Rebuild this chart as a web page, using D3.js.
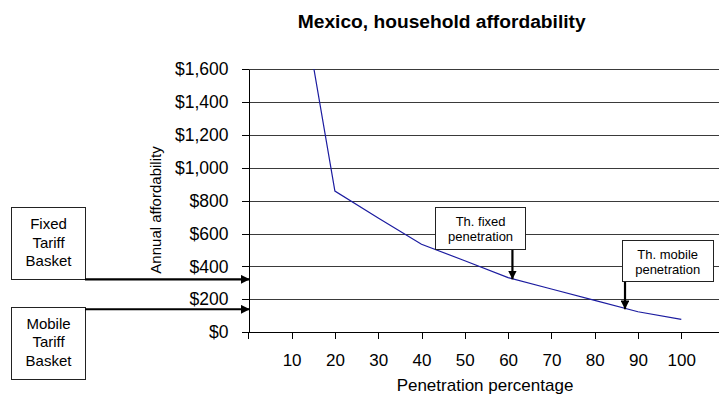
<!DOCTYPE html>
<html>
<head>
<meta charset="utf-8">
<script src="https://cdn.jsdelivr.net/npm/d3@7"></script>
<style>
  body { margin: 0; background: #fff; }
  svg { display: block; font-family: "Liberation Sans", Arial, sans-serif; }
  .grid line { stroke: #3a3a3a; stroke-width: 1; shape-rendering: crispEdges; }
  .axis path, .axis line { stroke: #000; shape-rendering: crispEdges; }
  .axis text { fill: #000; }
  .curve { fill: none; stroke: #1c1ca0; stroke-width: 1.2; }
  .box { fill: #fff; stroke: #222; stroke-width: 1; shape-rendering: crispEdges; }
  .pointer { stroke: #000; stroke-width: 2.2; }
</style>
</head>
<body>
<div id="chart"></div>
<script>
// values
const penetration = [10, 20, 30, 40, 50, 60, 70, 80, 90, 100];
const affordability = [2390, 858, 695, 535, 435, 332, 263, 194, 125, 79];
const xTicks = [10, 20, 30, 40, 50, 60, 70, 80, 90, 100];
const yTicks = [0, 200, 400, 600, 800, 1000, 1200, 1400, 1600];
const basketNames = [["Fixed", "Tariff", "Basket"], ["Mobile", "Tariff", "Basket"]];
const basketValues = [322, 140];
const thresholdNames = [["Th. fixed", "penetration"], ["Th. mobile", "penetration"]];
const thresholdPen = [61, 87];

const W = 719, H = 399;
const plotLeft = 248.3, plotRight = 719, plotTop = 69, plotBottom = 332.3;

const svg = d3.select("#chart").append("svg")
  .attr("width", W).attr("height", H);

const x = d3.scaleLinear().domain([0, 100]).range([plotLeft, 681.3]);
const y = d3.scaleLinear().domain([0, 1600]).range([plotBottom, plotTop]);

const defs = svg.append("defs");
defs.append("clipPath").attr("id", "plot-clip")
  .append("rect").attr("x", plotLeft).attr("y", plotTop)
  .attr("width", plotRight - plotLeft).attr("height", plotBottom - plotTop);
defs.append("marker")
  .attr("id", "head")
  .attr("viewBox", "0 -5 10 10")
  .attr("refX", 10).attr("refY", 0)
  .attr("markerWidth", 4).attr("markerHeight", 4)
  .attr("markerUnits", "strokeWidth")
  .attr("orient", "auto")
  .append("path").attr("d", "M0,-5L10,0L0,5Z").attr("fill", "#000");

// title
svg.append("text")
  .attr("x", 441.7).attr("y", 28)
  .attr("text-anchor", "middle")
  .style("font-size", "19.2px").style("font-weight", "bold")
  .text("Mexico, household affordability");

// gridlines
svg.append("g").attr("class", "grid")
  .selectAll("line").data(yTicks.filter(d => d > 0)).enter().append("line")
  .attr("x1", plotLeft).attr("x2", plotRight)
  .attr("y1", d => Math.round(y(d)) + 0.5).attr("y2", d => Math.round(y(d)) + 0.5);

// axes
svg.append("g").attr("class", "axis x-axis")
  .attr("transform", `translate(0,${Math.round(plotBottom) + 0.5})`)
  .call(d3.axisBottom(x).tickValues([0, ...xTicks]).tickSize(6).tickSizeOuter(0)
    .tickFormat(d => d === 0 ? "" : d))
  .call(g => g.select(".domain").attr("d", `M${plotLeft},0H${plotRight}`))
  .call(g => g.selectAll("text").attr("y", 21).style("font-size", "17px"));

svg.append("g").attr("class", "axis y-axis")
  .attr("transform", `translate(${Math.round(plotLeft) + 0.5},0)`)
  .call(d3.axisLeft(y).tickValues(yTicks).tickSize(7).tickSizeOuter(0)
    .tickFormat(d => "$" + d3.format(",")(d)))
  .call(g => g.selectAll("text").attr("x", -20).style("font-size", "17.5px"));

// axis titles
svg.append("text")
  .attr("x", 485).attr("y", 391)
  .attr("text-anchor", "middle")
  .style("font-size", "17px")
  .text("Penetration percentage");

svg.append("text")
  .attr("transform", "translate(161,210) rotate(-90)")
  .attr("text-anchor", "middle")
  .style("font-size", "15px")
  .text("Annual affordability");

// curve
const line = d3.line().x((d, i) => x(penetration[i])).y(d => y(d));
svg.append("path")
  .attr("class", "curve")
  .attr("clip-path", "url(#plot-clip)")
  .attr("d", line(affordability));

// tariff baskets on the left, arrows into the y axis
const basketBoxes = [{x0: 11, y0: 207.3, y1: 279.3}, {x0: 11, y0: 306.7, y1: 379}];
basketValues.forEach((v, i) => {
  const b = basketBoxes[i];
  const g = svg.append("g");
  g.append("rect").attr("class", "box")
    .attr("x", b.x0 + 0.5).attr("y", Math.round(b.y0) + 0.5)
    .attr("width", 74).attr("height", Math.round(b.y1 - b.y0));
  g.append("line").attr("class", "pointer")
    .attr("x1", 85).attr("x2", plotLeft + 1.5)
    .attr("y1", y(v)).attr("y2", y(v))
    .attr("marker-end", "url(#head)");
  g.selectAll("text").data(basketNames[i]).enter().append("text")
    .attr("x", 48.5)
    .attr("y", (d, j) => b.y0 + 22 + j * 18.4)
    .attr("text-anchor", "middle")
    .style("font-size", "15px")
    .text(d => d);
});

// threshold call-outs pointing down at the curve
const calloutBoxes = [{dx0: -77, dx1: 13.3, y0: 207.3, y1: 249.3}, {dx0: -2.6, dx1: 88, y0: 240, y1: 281}];
thresholdPen.forEach((p, i) => {
  const c = calloutBoxes[i];
  const ax = x(p);
  const g = svg.append("g");
  g.append("line").attr("class", "pointer")
    .attr("x1", ax).attr("x2", ax)
    .attr("y1", c.y1).attr("y2", y(basketValues[i]))
    .attr("marker-end", "url(#head)");
  g.append("rect").attr("class", "box")
    .attr("x", Math.round(ax + c.dx0) + 0.5).attr("y", Math.round(c.y0) + 0.5)
    .attr("width", Math.round(c.dx1 - c.dx0)).attr("height", Math.round(c.y1 - c.y0));
  g.selectAll("text").data(thresholdNames[i]).enter().append("text")
    .attr("x", ax + (c.dx0 + c.dx1) / 2)
    .attr("y", (d, j) => c.y0 + 19 + j * 14.5)
    .attr("text-anchor", "middle")
    .style("font-size", "13px")
    .text(d => d);
});
</script>
</body>
</html>
